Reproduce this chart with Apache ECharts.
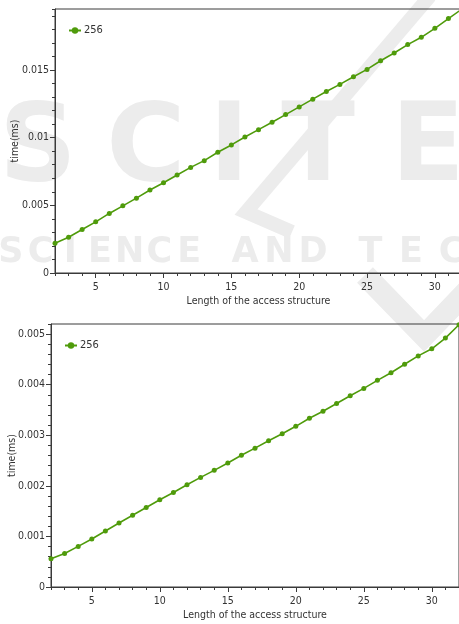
<!DOCTYPE html>
<html>
<head>
<meta charset="utf-8">
<script src="https://cdn.jsdelivr.net/npm/echarts@6/dist/echarts.min.js"></script>
<style>
  html, body { margin: 0; padding: 0; background: #ffffff; }
  #chart { width: 459px; height: 624px; }
</style>
</head>
<body>
<div id="chart"></div>
<script>
// Length of the access structure (x values shared by both panels)
const lengths = [2, 3, 4, 5, 6, 7, 8, 9, 10, 11, 12, 13, 14, 15, 16, 17, 18, 19, 20,
                 21, 22, 23, 24, 25, 26, 27, 28, 29, 30, 31, 32];

// Upper panel: time in ms
const timesUpper = [0.0022, 0.00264, 0.00321, 0.00378, 0.0044, 0.00496, 0.00553, 0.00613,
                    0.00667, 0.00724, 0.0078, 0.0083, 0.00892, 0.00946, 0.01005, 0.01059,
                    0.01114, 0.0117, 0.01227, 0.01284, 0.01341, 0.01393, 0.0145, 0.01504,
                    0.01568, 0.01625, 0.01687, 0.01741, 0.01807, 0.01879, 0.0195];

// Lower panel: time in ms
const timesLower = [0.000557, 0.000664, 0.000803, 0.000948, 0.001107, 0.001266, 0.001419,
                    0.001571, 0.001724, 0.001869, 0.002022, 0.002167, 0.002306, 0.002453,
                    0.002604, 0.002745, 0.002892, 0.003031, 0.003177, 0.003336, 0.003475,
                    0.003628, 0.00378, 0.003927, 0.004086, 0.004237, 0.004404, 0.004569,
                    0.004709, 0.004922, 0.005186];

const seriesName = '256';
const xTickLabels = [5, 10, 15, 20, 25, 30];
const yTickLabelsUpper = [0, 0.005, 0.01, 0.015];
const yTickLabelsLower = [0, 0.001, 0.002, 0.003, 0.004, 0.005];
const xTitle = 'Length of the access structure';
const yTitle = 'time(ms)';

const FONT = '"DejaVu Sans Condensed", "DejaVu Sans", sans-serif';
const TEXT = '#333333';
const AXIS = '#3a3a3a';
const GREEN = '#4f9b0b';

const panels = [
  { left: 55, top: 9, width: 407, height: 264, yMax: 0.0195, yMinor: 0.001, nameGap: 34,
    yLabels: yTickLabelsUpper, values: timesUpper, legendLeft: 68, legendTop: 25 },
  { left: 51, top: 324, width: 408, height: 263, yMax: 0.0052, yMinor: 0.0002, nameGap: 33,
    yLabels: yTickLabelsLower, values: timesLower, legendLeft: 64, legendTop: 340 }
];

const grids = [], xAxes = [], yAxes = [], series = [], legends = [];

panels.forEach((p, i) => {
  const rect = { left: p.left, top: p.top, width: p.width, height: p.height,
                 containLabel: false, outerBoundsMode: 'none' };
  // main grid: frame, labels, long ticks, data
  grids.push(Object.assign({ show: true, borderColor: AXIS, borderWidth: 1,
                             backgroundColor: 'transparent' }, rect));
  // overlay grid for the short minor ticks
  grids.push(Object.assign({ show: false }, rect));
  const gMain = i * 2, gMinor = i * 2 + 1;

  xAxes.push({
    type: 'value', gridIndex: gMain, min: 2, max: 32, position: 'bottom',
    name: xTitle, nameLocation: 'middle', nameGap: 23,
    nameTextStyle: { color: TEXT, fontFamily: FONT, fontSize: 10.5 },
    axisLine: { show: true, lineStyle: { color: AXIS, width: 1 } },
    axisTick: { show: true, length: 5, customValues: xTickLabels, lineStyle: { color: AXIS } },
    axisLabel: { show: true, customValues: xTickLabels, margin: 9,
                 color: TEXT, fontFamily: FONT, fontSize: 10.5 },
    splitLine: { show: false }
  });
  xAxes.push({
    type: 'value', gridIndex: gMinor, min: 2, max: 32, interval: 1, position: 'bottom',
    axisLine: { show: false },
    axisTick: { show: true, length: 3, lineStyle: { color: AXIS } },
    axisLabel: { show: false }, splitLine: { show: false }
  });

  yAxes.push({
    type: 'value', gridIndex: gMain, min: 0, max: p.yMax, position: 'left',
    name: yTitle, nameLocation: 'middle', nameGap: p.nameGap, nameRotate: 90,
    nameMoveOverlap: false,
    nameTextStyle: { color: TEXT, fontFamily: FONT, fontSize: 10.5 },
    axisLine: { show: true, lineStyle: { color: AXIS, width: 1 } },
    axisTick: { show: true, length: 5, customValues: p.yLabels, lineStyle: { color: AXIS } },
    axisLabel: { show: true, customValues: p.yLabels, margin: 6,
                 color: TEXT, fontFamily: FONT, fontSize: 10.5 },
    splitLine: { show: false }
  });
  yAxes.push({
    type: 'value', gridIndex: gMinor, min: 0, max: p.yMax, interval: p.yMinor, position: 'left',
    axisLine: { show: false },
    axisTick: { show: true, length: 3, lineStyle: { color: AXIS } },
    axisLabel: { show: false }, splitLine: { show: false }
  });

  series.push({
    name: seriesName, type: 'line', xAxisIndex: i * 2, yAxisIndex: i * 2,
    data: lengths.map((x, k) => [x, p.values[k]]),
    symbol: 'circle', symbolSize: 5, showSymbol: true,
    itemStyle: { color: GREEN },
    lineStyle: { color: GREEN, width: 1.6 },
    clip: true, animation: false, z: 3
  });

  legends.push({
    left: p.legendLeft, top: p.legendTop, orient: 'horizontal', padding: 0,
    itemWidth: 12, itemHeight: 8, itemGap: 6,
    data: [seriesName],
    textStyle: { color: TEXT, fontFamily: FONT, fontSize: 11, padding: [0, 0, 0, -2] }
  });
});

// Faint SCITEPRESS mark behind the plots
const WM = '#ececec';
const watermark = [];
[['S', 38], ['C', 146], ['I', 229], ['T', 318], ['E', 428]].forEach(([ch, cx]) => {
  watermark.push({ type: 'text', x: cx, y: 152, z: -10, silent: true,
    style: { text: ch, fill: WM, font: 'bold 108px "DejaVu Sans"', align: 'center', verticalAlign: 'middle' } });
});
[['SCIENCE', -4, 204], ['AND', 228, 330], ['TEC', 350, 472]].forEach(([word, x0, x1]) => {
  const cell = (x1 - x0) / word.length;
  word.split('').forEach((ch, k) => {
    watermark.push({ type: 'text', x: x0 + cell * (k + 0.5), y: 253, z: -10, silent: true,
      style: { text: ch, fill: WM, font: 'bold 35px "DejaVu Sans"', align: 'center', verticalAlign: 'middle' } });
  });
});
watermark.push({ type: 'polyline', z: -10, silent: true,
  shape: { points: [[430, -4], [246, 212], [292, 232]] },
  style: { stroke: WM, lineWidth: 14, fill: null } });
watermark.push({ type: 'polyline', z: -10, silent: true,
  shape: { points: [[365, 275], [424, 336], [470, 288]] },
  style: { stroke: WM, lineWidth: 22, fill: null } });

const chart = echarts.init(document.getElementById('chart'), null, { renderer: 'canvas' });
chart.setOption({
  backgroundColor: '#ffffff',
  animation: false,
  textStyle: { fontFamily: FONT },
  graphic: { elements: watermark },
  grid: grids,
  xAxis: xAxes,
  yAxis: yAxes,
  legend: legends,
  series: series
});
</script>
</body>
</html>
